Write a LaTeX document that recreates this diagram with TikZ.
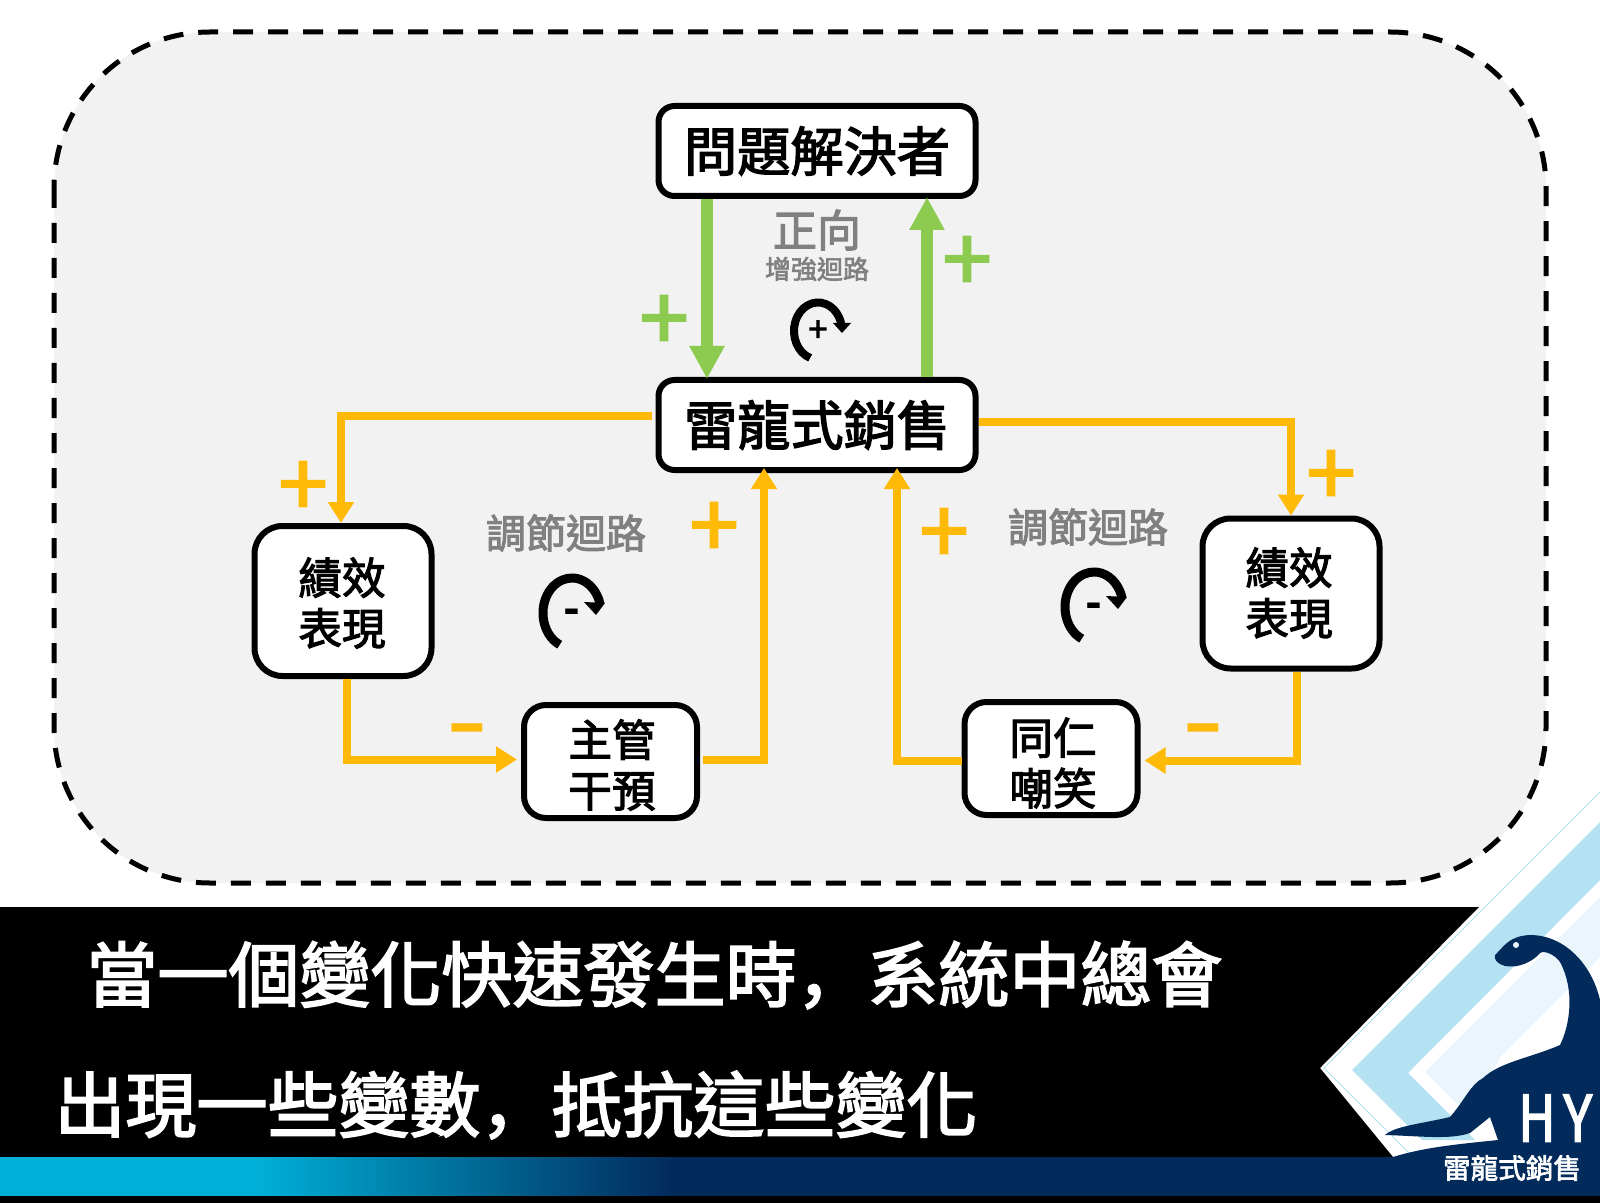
\documentclass[tikz,border=0pt]{standalone}
\usepackage{fontspec}
\setmainfont{Noto Sans CJK TC}
\newfontfamily\midfont[FakeBold=2.5]{Noto Sans CJK TC}
\newfontfamily\scfont[FakeBold=2.5]{Noto Sans CJK SC}
\usetikzlibrary{arrows.meta}
\definecolor{panelgray}{HTML}{F2F2F2}
\definecolor{greenline}{HTML}{8CCB50}
\definecolor{orangeline}{HTML}{FFBA08}
\definecolor{labelgray}{HTML}{808080}
\definecolor{logonavy}{HTML}{022B5C}
\definecolor{logoblue}{HTML}{B5E2F2}
\definecolor{logopale}{HTML}{EAF5FC}
\definecolor{bandcyan}{HTML}{00B0D8}
\pgfdeclarehorizontalshading{bandshade}{100bp}{color(0bp)=(bandcyan); color(33bp)=(bandcyan); color(46bp)=(logonavy); color(100bp)=(logonavy)}
\tikzset{
  box/.style={draw=black, line width=3pt, fill=white, inner sep=0pt},
  widebox/.style={box, rounded corners=8pt, minimum width=158.5pt, minimum height=45pt,
    font=\fontsize{26.6}{26.6}\midfont},
  tallbox/.style={box, rounded corners=14pt, minimum width=88.5pt, minimum height=75pt},
  lowbox/.style={box, rounded corners=11pt, minimum width=86.5pt, minimum height=56.5pt},
  boxtext/.style={inner sep=0pt, align=center, font=\fontsize{21.8}{25.3}\midfont},
  greenarrow/.style={draw=greenline, line width=6pt, -{Triangle[length=16.5pt,width=16.5pt]}},
  orangearrow/.style={draw=orangeline, line width=4pt, -{Triangle[length=10.5pt,width=12.5pt]}},
  plustext/.style={inner sep=0pt, font=\fontsize{44}{44}\midfont},
  minustext/.style={inner sep=0pt, text=orangeline, font=\fontsize{60}{60}\selectfont},
  graytext/.style={inner sep=0pt, text=labelgray, font=\fontsize{20}{20}\midfont},
  loopmark/.style={inner sep=0pt, font=\fontsize{17}{17}\midfont},
  captiontext/.style={inner sep=0pt, text=white, font=\fontsize{35.5}{35.5}\midfont},
}
\begin{document}
\begin{tikzpicture}[x=0.5pt, y=-0.5pt]
  \useasboundingbox (0,0) rectangle (1600,1203);
  \fill[white] (0,0) rectangle (1600,1203);
  % Panel
  \draw[fill=panelgray, line width=2.5pt, dash pattern=on 10pt off 7.5pt, rounded corners=78pt] (54,32) rectangle (1546,883);
  % Boxes
  \node[widebox] (solver) at (817,151) {問題解決者};
  \node[widebox] (sales) at (817,425) {雷龍式銷售};
  \node[tallbox] (perfL) at (343,601) {};
  \node[tallbox] (perfR) at (1291,593.5) {};
  \node[lowbox] (boss) at (610.5,761.5) {};
  \node[lowbox] (peer) at (1051,758.5) {};
  \node[boxtext] (perfLtext) at (342,603) {績效\\表現};
  \node[boxtext] (perfRtext) at (1289,593) {績效\\表現};
  \node[boxtext] (bosstext) at (612,765) {主管\\干預};
  \node[boxtext] (peertext) at (1053,763) {同仁\\嘲笑};
  % Green loop
  \draw[greenarrow, shorten >=-1pt] ([xshift=-55pt]solver.south) -- ([xshift=-55pt]sales.north);
  \draw[greenarrow, shorten >=-1pt] ([xshift=55pt]sales.north) -- ([xshift=55pt]solver.south);
  \node[plustext, text=greenline] (plusA) at (664,323) {+};
  \node[plustext, text=greenline] (plusB) at (967,264) {+};
  \node[graytext, font=\fontsize{22}{22}\midfont] (positive) at (817,230) {正向};
  \node[graytext, font=\fontsize{13}{13}\midfont] (boost) at (817,269) {增強迴路};
  \node[loopmark] (loopA) at (818,331) {+};
  \draw[line width=4pt] (loopA) ++(-251:24 and 28.5) arc[start angle=-251, end angle=-15, x radius=24, y radius=28.5];
  \fill (loopA) ++(15,-8) -- ++(18,0) -- ++(-9,10) -- cycle;
  % Orange loops
  \draw[orangearrow, shorten <=2pt] ([yshift=4.5pt]sales.west) -| ([xshift=-1pt]perfL.north);
  \draw[orangearrow, shorten >=2pt] ([xshift=2pt]perfL.south) |- ([yshift=1pt]boss.west);
  \draw[orangearrow, shorten <=1.5pt, shorten >=-2.5pt] ([yshift=1pt]boss.east) -| ([xshift=-26.5pt]sales.south);
  \draw[orangearrow, shorten >=-2.5pt] ([yshift=-1pt]peer.west) -| ([xshift=40pt]sales.south);
  \draw[orangearrow, shorten >=2pt] ([xshift=3pt]perfR.south) |- ([yshift=-1pt]peer.east);
  \draw[orangearrow] ([yshift=1.5pt]sales.east) -| (perfR.north);
  \node[plustext, text=orangeline] (plusC) at (303,489) {+};
  \node[plustext, text=orangeline] (plusD) at (714,530) {+};
  \node[plustext, text=orangeline] (plusE) at (944,536) {+};
  \node[plustext, text=orangeline] (plusF) at (1331,478) {+};
  \node[minustext] (minusA) at (467,743) {-};
  \node[minustext] (minusB) at (1203,743) {-};
  \node[graytext] (balanceA) at (566,533) {調節迴路};
  \node[graytext] (balanceB) at (1088,527) {調節迴路};
  \node[loopmark, font=\fontsize{22}{22}\selectfont\bfseries] (loopB) at (572,617) {-};
  \draw[line width=4.5pt] (loopB) ++(0,-4) ++(-245:29 and 35) arc[start angle=-245, end angle=-15, x radius=29, y radius=35];
  \fill (loopB) ++(12,-15) -- ++(21,1) -- ++(-9,12) -- cycle;
  \node[loopmark, font=\fontsize{22}{22}\selectfont\bfseries] (loopC) at (1094,611) {-};
  \draw[line width=4.5pt] (loopC) ++(0,-4) ++(-245:29 and 35) arc[start angle=-245, end angle=-15, x radius=29, y radius=35];
  \fill (loopC) ++(12,-15) -- ++(21,1) -- ++(-9,12) -- cycle;
  % Black band
  \fill[black] (0,907) -- (1479,907) -- (1320,1068) -- (1393,1157) -- (0,1157) -- cycle;
  \fill[black] (0,1195) rectangle (1600,1203);
  % Gradient band
  \shade[shading=bandshade] (0,1157) rectangle (1600,1195);
  % Logo
  \draw[logoblue, line width=0.5pt] (1600,792) -- (1324,1068) -- (1410,1154);
  \fill[logoblue] (1352,1070) -- (1600,822) -- (1600,880) -- (1408,1073) -- (1475,1140) -- (1422,1140) -- cycle;
  \fill[logopale] (1425,1072) -- (1600,897) -- (1600,957) -- (1500,1057) -- (1470,1117) -- cycle;
  % Dinosaur
  \fill[logonavy] (1393,1157) .. controls (1425,1147) and (1460,1144) .. (1498,1140)
    -- (1490,1117) -- (1470,1133) .. controls (1450,1140) and (1420,1136) .. (1385,1135)
    .. controls (1395,1126) and (1420,1124) .. (1450,1117)
    .. controls (1465,1100) and (1470,1085) .. (1483,1078)
    .. controls (1500,1062) and (1530,1058) .. (1560,1045)
    .. controls (1570,1025) and (1575,990) .. (1560,962)
    .. controls (1555,955) and (1545,950) .. (1540,953)
    .. controls (1530,965) and (1510,970) .. (1500,964)
    .. controls (1493,960) and (1494,955) .. (1497,953)
    .. controls (1505,945) and (1510,936) .. (1530,935)
    .. controls (1565,935) and (1592,965) .. (1600,1000)
    -- (1600,1157) -- cycle;
  \fill[logopale] (1516,945) circle[radius=3];
  \node[inner sep=0pt, anchor=west, text=white, xscale=0.8, font=\fontsize{32}{32}\midfont] (brandH) at (1518,1118) {H};
  \node[inner sep=0pt, anchor=west, text=white, xscale=0.85, font=\fontsize{32}{32}\midfont] (brandY) at (1563,1118) {Y};
  \node[inner sep=0pt, text=white, font=\fontsize{13.8}{13.8}\midfont] (brand) at (1512,1168) {雷龍式銷售};
  % Caption
  \node[captiontext] (lineA) at (654.5,975) {當一個變化快速發生時{\scfont ，}系統中總會};
  \node[captiontext] (lineB) at (516,1105) {出現一些變數{\scfont ，}抵抗這些變化};
\end{tikzpicture}
\end{document}
